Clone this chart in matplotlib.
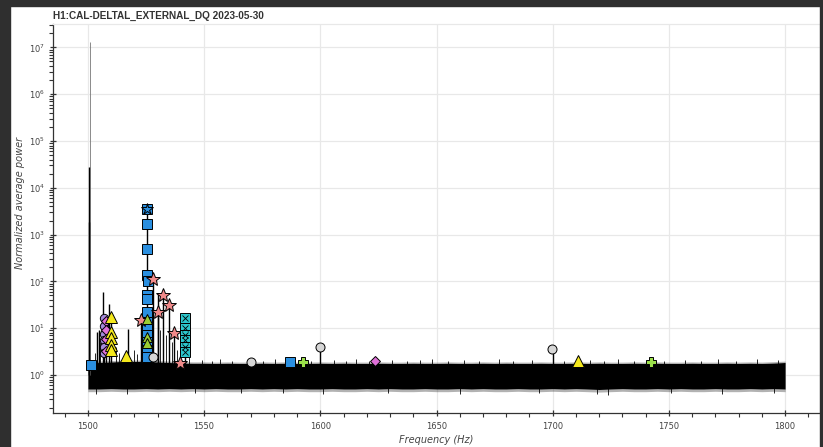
import numpy as np
import matplotlib
matplotlib.use("Agg")
import matplotlib.pyplot as plt
from matplotlib.ticker import LogLocator, MultipleLocator, NullFormatter, FixedLocator
from matplotlib.patches import Rectangle

TITLE = "H1:CAL-DELTAL_EXTERNAL_DQ 2023-05-30"
XLABEL = "Frequency (Hz)"
YLABEL = "Normalized average power"
Y_DECADES = [1e0, 1e1, 1e2, 1e3, 1e4, 1e5, 1e6, 1e7]

# Noise floor: min / max of the normalized spectrum in 5 Hz bins (1500..1800 Hz)
floor_hi = [1.80, 1.85, 1.90, 1.95, 1.95, 1.95, 1.90, 1.85, 1.80, 1.78, 1.78,
            1.76, 1.78, 1.76, 1.76, 1.78, 1.76, 1.78, 1.76, 1.76, 1.78,
            1.76, 1.78, 1.76, 1.76, 1.78, 1.76, 1.76, 1.78, 1.76, 1.76,
            1.78, 1.76, 1.76, 1.78, 1.76, 1.78, 1.76, 1.76, 1.78, 1.76,
            1.76, 1.78, 1.76, 1.78, 1.76, 1.76, 1.78, 1.76, 1.78, 1.76,
            1.76, 1.78, 1.76, 1.76, 1.78, 1.76, 1.78, 1.76, 1.80, 1.85]
floor_lo = [0.50, 0.50, 0.51, 0.50, 0.50, 0.51, 0.50, 0.51, 0.50, 0.51, 0.50,
            0.51, 0.50, 0.50, 0.51, 0.50, 0.51, 0.50, 0.51, 0.50, 0.50,
            0.51, 0.50, 0.50, 0.51, 0.50, 0.51, 0.50, 0.50, 0.51, 0.50,
            0.50, 0.51, 0.50, 0.51, 0.50, 0.50, 0.51, 0.50, 0.50, 0.51,
            0.50, 0.51, 0.50, 0.49, 0.50, 0.51, 0.50, 0.50, 0.51, 0.50,
            0.51, 0.50, 0.50, 0.51, 0.50, 0.50, 0.51, 0.50, 0.51, 0.50]
floor_freq = np.linspace(1500, 1800, len(floor_hi))

# Isolated bins poking out of the floor (Hz, power)
grass_freq = [1503.0, 1505.3, 1511.9, 1513.6, 1519.8, 1521.2, 1527.2, 1531.2,
              1533.5, 1536.0, 1538.3, 1543.5, 1549.0, 1553.5, 1557.0, 1562.0,
              1575.5, 1580.5, 1596.0, 1606.0, 1611.0, 1615.5, 1621.0, 1631.0,
              1637.5, 1643.0, 1648.0, 1655.0, 1662.0, 1668.5, 1677.0, 1683.0,
              1691.0, 1705.0, 1716.0, 1722.0, 1728.0, 1735.0, 1748.0, 1757.0,
              1764.0, 1771.0, 1779.0, 1788.0, 1797.0]
grass_val = [3.0, 5.0, 4.0, 3.0, 3.5, 2.8, 12.0, 9.0,
             7.0, 5.0, 3.5, 2.5, 2.1, 2.0, 2.2, 2.0,
             2.0, 2.2, 2.0, 2.1, 2.0, 2.2, 2.0, 2.1,
             2.0, 2.1, 2.2, 2.0, 2.1, 2.0, 2.2, 2.0,
             2.1, 2.0, 2.1, 2.0, 2.2, 2.0, 2.0, 2.1,
             2.0, 2.2, 2.0, 2.2, 2.1]
dip_freq = [1503.5, 1517.0, 1546.0, 1566.0, 1584.0, 1601.0, 1629.0, 1660.0,
            1694.0, 1719.0, 1724.0, 1751.0, 1773.0, 1795.0]
dip_val = [0.40, 0.39, 0.41, 0.41, 0.42, 0.40, 0.41, 0.40,
           0.41, 0.40, 0.37, 0.41, 0.40, 0.41]

# Spectral peaks rising out of the floor (Hz, peak power)
peak_freq = [1500.72, 1500.66, 1500.60, 1503.9, 1504.6, 1506.5, 1506.8, 1508.0,
             1509.1, 1509.9, 1516.3, 1517.4, 1522.9, 1525.6,
             1528.0, 1530.1, 1530.3, 1532.4, 1534.9, 1537.0, 1539.6, 1541.8,
             1600.0, 1700.0]
peak_val = [1.3e7, 2.8e4, 1.9e3, 8.4, 9.0, 60.0, 16.5, 16.0,
            33.0, 17.6, 2.5, 9.6, 15.0, 3.5e3,
            110.0, 22.5, 56.0, 50.0, 32.0, 7.8, 1.83, 16.5,
            4.0, 3.6]

# Line-list markers, one group per comb / line family
blue_sq_f = [1501.3, 1525.6, 1525.6, 1525.6, 1525.5, 1525.7, 1525.6, 1525.5,
             1525.6, 1525.6, 1525.5, 1525.6, 1525.6, 1525.6, 1525.6, 1586.8]
blue_sq_v = [1.64, 3.5e3, 1.7e3, 486, 137, 103, 51, 43,
             22.5, 13.8, 10.0, 7.2, 5.15, 3.4, 2.46, 1.87]
blue_star_f = [1525.6]
blue_star_v = [3.5e3]
star_f = [1522.9, 1528.0, 1530.1, 1532.4, 1534.9, 1537.0, 1539.6]
star_v = [15.0, 110, 22.5, 50, 32, 7.8, 1.83]
yellow_tri_f = [1509.9, 1509.9, 1509.9, 1509.9, 1509.9, 1516.3, 1710.9]
yellow_tri_v = [17.6, 8.4, 6.2, 4.4, 3.4, 2.5, 2.0]
purple_circ_f = [1506.9, 1506.9, 1506.9, 1506.9, 1506.9, 1506.9]
purple_circ_v = [16.5, 11.0, 7.5, 5.5, 4.0, 3.0]
orchid_dia_f = [1508.0, 1508.0, 1508.0, 1508.0, 1525.6, 1623.4]
orchid_dia_v = [14.0, 9.0, 6.0, 3.2, 4.9, 2.02]
green_tri_f = [1525.5, 1525.5, 1525.5]
green_tri_v = [15.5, 6.5, 4.8]
gray_circ_f = [1528.0, 1570.2, 1600.0, 1699.9]
gray_circ_v = [2.46, 1.9, 4.0, 3.54]
cyan_sqx_f = [1541.8, 1541.8, 1541.8, 1541.8, 1541.8, 1541.8]
cyan_sqx_v = [16.5, 9.9, 7.2, 5.6, 4.0, 3.15]
green_plus_f = [1592.4, 1742.4]
green_plus_v = [1.92, 1.87]

W, H = 823, 447
fig = plt.figure(figsize=(W / 100, H / 100), dpi=100)
fig.patch.set_facecolor("white")

L, R, T, B = 53, 820, 24, 413
ax = fig.add_axes([L / W, 1 - B / H, (R - L) / W, (B - T) / H])
ax.set_yscale("log")
ax.set_xlim(1485, 1815)
ax.set_ylim(10 ** -0.812, 10 ** 7.5)

# grid and frame
ax.grid(True, which="major", color="#e8e8e8", lw=0.9)
ax.set_axisbelow(True)
for s in ("top", "right"):
    ax.spines[s].set_color("#e8e8e8")
    ax.spines[s].set_linewidth(0.9)
for s in ("left", "bottom"):
    ax.spines[s].set_color("#333333")
    ax.spines[s].set_linewidth(0.9)

# noise floor
ax.fill_between(floor_freq, floor_lo, floor_hi, color="black", lw=0, zorder=2)
ax.fill_between(floor_freq, floor_hi, [v * 1.07 for v in floor_hi],
                color="black", alpha=0.3, lw=0, zorder=2)
ax.fill_between(floor_freq, [v * 0.88 for v in floor_lo], floor_lo,
                color="black", alpha=0.3, lw=0, zorder=2)
ax.vlines(grass_freq, 1.0, grass_val, color="black", lw=0.6, zorder=2)
ax.vlines(dip_freq, dip_val, 0.6, color="black", lw=0.6, zorder=2)

# peaks
for f, v in zip(peak_freq, peak_val):
    tall = v > 1e6
    ax.vlines(f, 1.0, v, color="#777777" if tall else "black",
              lw=0.6 if tall else 1.0, zorder=3)

mk = dict(linestyle="none", markeredgecolor="black", markeredgewidth=0.7, zorder=5)
ax.plot(purple_circ_f, purple_circ_v, marker="o", ms=6, markerfacecolor="#a58bdc", **mk)
ax.plot(orchid_dia_f, orchid_dia_v, marker="D", ms=5, markerfacecolor="#e070d8", **mk)
ax.plot(yellow_tri_f, yellow_tri_v, marker="^", ms=8.5, markerfacecolor="#f4e81c", **mk)
ax.plot(blue_sq_f, blue_sq_v, marker="s", ms=6.5, markerfacecolor="#2a8fe0", **mk)
ax.plot(blue_star_f, blue_star_v, marker="*", ms=9, markerfacecolor="#2a8fe0", **mk)
ax.plot(star_f, star_v, marker="*", ms=10.5, markerfacecolor="#f08a8a", **mk)
ax.plot(green_tri_f, green_tri_v, marker="^", ms=7, markerfacecolor="#9acd32", **mk)
ax.plot(gray_circ_f, gray_circ_v, marker="o", ms=6.5, markerfacecolor="#d6d6d6", **mk)
ax.plot(cyan_sqx_f, cyan_sqx_v, marker="s", ms=7, markerfacecolor="#2cc6cc", **mk)
ax.plot(cyan_sqx_f, cyan_sqx_v, marker="x", ms=5, markeredgecolor="black",
        markeredgewidth=0.6, linestyle="none", zorder=6)
ax.plot(green_plus_f, green_plus_v, marker="P", ms=7.5, markerfacecolor="#9be04a", **mk)

# ticks
ax.xaxis.set_major_locator(MultipleLocator(50))
ax.xaxis.set_minor_locator(MultipleLocator(10))
ax.yaxis.set_major_locator(FixedLocator(Y_DECADES))
ax.yaxis.set_minor_locator(LogLocator(base=10, subs=np.arange(2, 10), numticks=20))
ax.yaxis.set_minor_formatter(NullFormatter())
ax.tick_params(which="major", direction="inout", length=5, width=0.9, color="#333333",
               labelsize=6, labelcolor="#444444")
ax.tick_params(which="minor", direction="out", length=3, width=0.8, color="#333333")
ax.tick_params(axis="x", pad=4)
ax.tick_params(axis="y", pad=3)

ax.set_xlabel(XLABEL, fontsize=7, style="italic", color="#444444", labelpad=3)
ax.set_ylabel(YLABEL, fontsize=7, style="italic", color="#444444", va="center")
ax.yaxis.set_label_coords(-0.043, 0.54)
fig.text(L / W, 1 - 16 / H, TITLE, fontsize=7.2, fontweight="bold", color="#333333",
         va="center", ha="left", family="Liberation Sans")

# window frame
dark = "#2f2f2f"
fig.patches.append(Rectangle((0, 0), 10 / W, 1, transform=fig.transFigure, color=dark, zorder=10))
fig.patches.append(Rectangle((0, 1 - 6 / H), 1, 6 / H, transform=fig.transFigure, color=dark, zorder=10))
fig.patches.append(Rectangle((1 - 3 / W, 0), 3 / W, 1, transform=fig.transFigure, color=dark, zorder=10))

fig.savefig("out.png", dpi=100)
